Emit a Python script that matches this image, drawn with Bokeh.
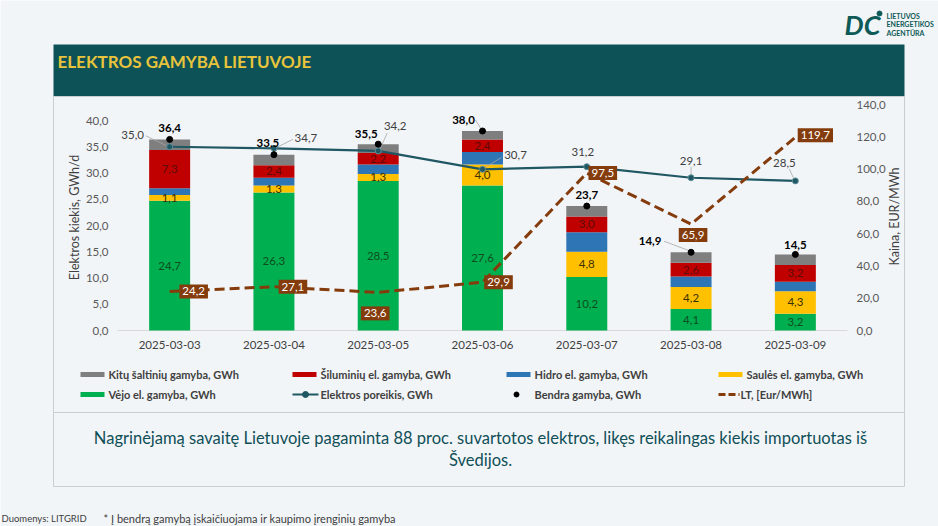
import math
from bokeh.plotting import figure
from bokeh.models import (ColumnDataSource, Range1d, LinearAxis, FixedTicker, CustomJSTickFormatter)
from bokeh.core.properties import value
from bokeh.embed import file_html
from bokeh.resources import INLINE

# ---------------- data ----------------
dates = ["2025-03-03", "2025-03-04", "2025-03-05", "2025-03-06", "2025-03-07", "2025-03-08", "2025-03-09"]
wind = [24.7, 26.3, 28.5, 27.6, 10.2, 4.1, 3.2]
solar = [1.1, 1.3, 1.3, 4.0, 4.8, 4.2, 4.3]
hydro = [1.3, 1.5, 1.8, 2.4, 3.7, 2.0, 1.8]
thermal = [7.3, 2.4, 2.2, 2.4, 3.0, 2.6, 3.2]
other = [2.0, 2.0, 1.7, 1.6, 2.0, 2.0, 2.0]
total = [36.4, 33.5, 35.5, 38.0, 23.7, 14.9, 14.5]
demand = [35.0, 34.7, 34.2, 30.7, 31.2, 29.1, 28.5]
price = [24.2, 27.1, 23.6, 29.9, 97.5, 65.9, 119.7]
left_ticks = [0, 5, 10, 15, 20, 25, 30, 35, 40]
right_ticks = [0, 20, 40, 60, 80, 100, 120, 140]

legend_labels = ["Kitų šaltinių gamyba,  GWh", "Šiluminių el. gamyba, GWh", "Hidro el. gamyba, GWh",
                 "Saulės el. gamyba, GWh", "Vėjo el. gamyba, GWh", "Elektros poreikis, GWh",
                 "Bendra gamyba, GWh", "LT, [Eur/MWh]"]
title_text = "ELEKTROS GAMYBA LIETUVOJE"
note_lines = ["Nagrinėjamą savaitę Lietuvoje pagaminta 88 proc. suvartotos elektros, likęs reikalingas kiekis importuotas iš",
              "Švedijos."]
source_text = "Duomenys: LITGRID"
star_text = "* Į bendrą gamybą įskaičiuojama ir kaupimo įrenginių gamyba"
left_label = "Elektros kiekis, GWh/d"
right_label = "Kaina, EUR/MWh"
logo_lines = ["LIETUVOS", "ENERGETIKOS", "AGENTŪRA"]

# ---------------- style ----------------
FONT = "Lato"
BG = "#F2F5F8"
C_WIND, C_SOLAR, C_HYDRO, C_THERM, C_OTHER = "#00B050", "#FFC000", "#2E75B6", "#C00000", "#7F7F7F"
C_DEM = "#1F5763"
C_PRICE = "#843C0C"
C_TEAL = "#0D5257"
C_LINE = "#C9CED3"

def fmt(v):
    return f"{v:.1f}".replace(".", ",")

W, H = 938, 526
PL, PR, PT, PB = 117, 847, 104, 330   # plot area (pixels from top-left)
n = len(dates)
kx = (PR - PL) / n                  # px per category
ky = 210 / 40                       # px per GWh
kp = (PB - PT) / 140                # px per EUR/MWh

xs = list(range(n))
# label offsets (px, +y = down) and leader-line ends (px offsets from the point; None = no leader)
dem_dx = [-37, 32, 17, 33, -4, 0, -11]
dem_dy = [-12, -10, -25, -14, -15, -17, -18]
dem_lead = [(-24, -11, -3, -1), (19, -9, 3, -1), (9, -18, 2, -2), (19, -12, 3, -2), None,
            (0, -11, 0, -3), (-6, -12, -2, -3)]
tot_dx = [0, -6, -12, -19, 0, -41, 0]
tot_dy = [-11, -12, -10, -11, -11, -11, -9]
tot_lead = [None, None, None, (-7, -11, -2, -3), None, (-27, -11, -3, -2), None]

src = ColumnDataSource(dict(
    x=xs, wind=wind, solar=solar, hydro=hydro, thermal=thermal, other=other,
    total=total, demand=demand, price=price,
    wind_mid=[w / 2 for w in wind],
    solar_mid=[w + s / 2 for w, s in zip(wind, solar)],
    therm_mid=[w + s + h + t / 2 for w, s, h, t in zip(wind, solar, hydro, thermal)],
    wind_txt=[fmt(v) for v in wind], solar_txt=[fmt(v) for v in solar],
    therm_txt=[fmt(v) for v in thermal], total_txt=[fmt(v) for v in total],
    dem_txt=[fmt(v) for v in demand], price_txt=[fmt(v) for v in price],
    dem_dx=dem_dx, dem_dy=dem_dy, tot_dx=tot_dx, tot_dy=tot_dy,
    pr_dx=[24, 19, -3, 16, 16, 2, 20], pr_dy=[0, 0, 21, 0, 0, 11, -2],
))

# leader lines derived from the data points plus pixel offsets
lx0, ly0, lx1, ly1 = [], [], [], []
for vals, leads in [(demand, dem_lead), (total, tot_lead)]:
    for i, (v, ld) in enumerate(zip(vals, leads)):
        if ld is None:
            continue
        ax_, ay_, bx_, by_ = ld
        lx0.append(i + ax_ / kx); ly0.append(v - ay_ / ky)
        lx1.append(i + bx_ / kx); ly1.append(v - by_ / ky)

# page-pixel main ranges (y grows downward); chart uses extra ranges
p = figure(width=W, height=H, x_range=Range1d(0, W), y_range=Range1d(H, 0),
           output_backend="svg", toolbar_location=None, x_axis_location=None, y_axis_location=None,
           min_border=0)
p.extra_x_ranges = {"cx": Range1d(-0.5 - PL / kx, n - 0.5 + (W - PR) / kx)}
p.extra_y_ranges = {"cy": Range1d(-(H - PB) / ky, PB / ky),
                    "price": Range1d(-(H - PB) / kp, PB / kp)}
p.background_fill_color = BG
p.border_fill_color = BG
p.outline_line_color = None
p.xgrid.grid_line_color = None
p.ygrid.grid_line_color = None

# ---------- page decorations (pixel space) ----------
p.quad(left=[53], right=[904], top=[44], bottom=[96], fill_color=C_TEAL, line_color=None)
p.quad(left=[53], right=[904], top=[96], bottom=[412], fill_alpha=0, line_color=C_LINE, line_width=1)
p.quad(left=[53], right=[904], top=[412], bottom=[486], fill_alpha=0, line_color=C_LINE, line_width=1)
p.text(x=[57], y=[61], text=[title_text], text_font=value(FONT), text_font_size="17px",
       text_font_style="bold", text_color="#E8C33C", text_baseline="middle")
for i, line in enumerate(note_lines):
    p.text(x=[480], y=[437 + 22 * i], text=[line], text_font=value(FONT), text_font_size="16.5px",
           text_color="#0F4F57", text_align="center", text_baseline="middle")
p.text(x=[1], y=[518], text=[source_text], text_font=value(FONT),
       text_font_size="9.5px", text_color="#404040", text_baseline="middle")
p.text(x=[103], y=[518], text=[star_text], text_font=value(FONT),
       text_font_size="11px", text_color="#404040", text_baseline="middle")
# logo
p.text(x=[862], y=[24], text=["DC"], text_font=value(FONT), text_font_size="27px",
       text_font_style="bold italic", text_color="#0E5A57", text_align="center", text_baseline="middle")
p.scatter(x=[879], y=[13], size=5, color="#0E5A57")
p.text(x=[886] * 3, y=[15, 23.5, 32], text=logo_lines, text_font=value(FONT), text_font_size="7px",
       text_font_style="bold", text_color="#0E5A57", text_baseline="middle")
# axis titles
p.text(x=[74], y=[217], text=[left_label], angle=math.pi / 2, text_font=value(FONT),
       text_font_size="12.5px", text_color="#404040", text_align="center", text_baseline="middle")
p.text(x=[894], y=[216], text=[right_label], angle=math.pi / 2, text_font=value(FONT),
       text_font_size="12.5px", text_color="#404040", text_align="center", text_baseline="middle")

# legend (manual, pixel space)
cols = [80, 292, 506, 718]
rows = [374, 394]
sw_colors = [C_OTHER, C_THERM, C_HYDRO, C_SOLAR, C_WIND]
for k, lab in enumerate(legend_labels):
    r, c = divmod(k, 4)
    x0, y0 = cols[c], rows[r]
    if k < 5:
        p.quad(left=[x0], right=[x0 + 24], top=[y0 - 2.5], bottom=[y0 + 2.5],
               fill_color=sw_colors[k], line_color=None)
    elif k == 5:
        p.line(x=[x0, x0 + 26], y=[y0, y0], line_color=C_DEM, line_width=2)
        p.scatter(x=[x0 + 13], y=[y0], size=6, fill_color=C_DEM, line_color=C_DEM)
    elif k == 6:
        p.scatter(x=[x0 + 10], y=[y0], size=5, color="black")
    else:
        p.line(x=[x0, x0 + 21], y=[y0, y0], line_color=C_PRICE, line_width=3, line_dash="7 3")
    tx = x0 + (28 if k != 7 else 22)
    p.text(x=[tx], y=[y0], text=[lab], text_font=value(FONT), text_font_size="11px",
           text_font_style="bold", text_color="#404040", text_baseline="middle")

# ---------- chart ----------
CR = dict(x_range_name="cx", y_range_name="cy")
p.segment(x0=[-0.5], y0=[0], x1=[n - 0.5], y1=[0], line_color="#D9D9D9", line_width=1, **CR)
p.vbar_stack(["wind", "solar", "hydro", "thermal", "other"], x="x", width=0.393,
             color=[C_WIND, C_SOLAR, C_HYDRO, C_THERM, C_OTHER], line_color=None, source=src, **CR)
p.segment(x0=lx0, y0=ly0, x1=lx1, y1=ly1, line_color="#A6A6A6", line_width=0.8, **CR)
p.line(x="x", y="demand", source=src, line_color=C_DEM, line_width=2.2, **CR)
p.scatter(x="x", y="demand", source=src, size=6, fill_color=C_DEM, line_color="#5E8F99",
          line_width=1, **CR)
p.line(x="x", y="price", source=src, x_range_name="cx", y_range_name="price", line_color=C_PRICE,
       line_width=3, line_dash="10 5")
p.scatter(x="x", y="total", source=src, size=6, color="black", **CR)

common = dict(source=src, text_font=value(FONT), text_font_size="11.5px", text_align="center",
              text_baseline="middle", x_range_name="cx")
p.text(x="x", y="wind_mid", text="wind_txt", text_color="#0F4D1F", y_range_name="cy", **common)
p.text(x="x", y="solar_mid", text="solar_txt", text_color="#3A3100", y_range_name="cy", **common)
p.text(x="x", y="therm_mid", text="therm_txt", text_color="#5C0A0A", y_range_name="cy", **common)
p.text(x="x", y="total", text="total_txt", x_offset="tot_dx", y_offset="tot_dy",
       text_color="black", text_font_style="bold", y_range_name="cy", **common)
p.text(x="x", y="demand", text="dem_txt", x_offset="dem_dx", y_offset="dem_dy",
       text_color="#404040", y_range_name="cy", **common)
p.text(x="x", y="price", text="price_txt", x_offset="pr_dx", y_offset="pr_dy",
       y_range_name="price", text_color="white", background_fill_color=C_PRICE,
       padding=3, **common)

# ---------- axes (fixed at the plot-area edges) ----------
fmt_code = "return tick.toFixed(1).replace('.', ',')"
ax_left = LinearAxis(x_range_name="cx", y_range_name="cy", fixed_location=-0.5,
                     ticker=FixedTicker(ticks=left_ticks), formatter=CustomJSTickFormatter(code=fmt_code))
ax_right = LinearAxis(x_range_name="cx", y_range_name="price", fixed_location=n - 0.5,
                      ticker=FixedTicker(ticks=right_ticks), formatter=CustomJSTickFormatter(code=fmt_code))
ax_bottom = LinearAxis(x_range_name="cx", y_range_name="cy", fixed_location=0,
                       ticker=FixedTicker(ticks=xs),
                       major_label_overrides={i: d for i, d in zip(xs, dates)})
for ax in [ax_left, ax_right, ax_bottom]:
    ax.axis_line_color = None
    ax.major_tick_line_color = None
    ax.minor_tick_line_color = None
    ax.major_tick_out = 0
    ax.major_tick_in = 0
    ax.minor_tick_out = 0
    ax.major_label_text_font = FONT
    ax.major_label_text_font_size = "11.5px"
    ax.major_label_text_color = "#595959"
    ax.major_label_standoff = 9
ax_bottom.major_label_text_color = "#404040"
ax_bottom.major_label_standoff = 10
p.add_layout(ax_left, "left")
p.add_layout(ax_right, "right")
p.add_layout(ax_bottom, "below")

open("out.html", "w").write(file_html(p, INLINE))
